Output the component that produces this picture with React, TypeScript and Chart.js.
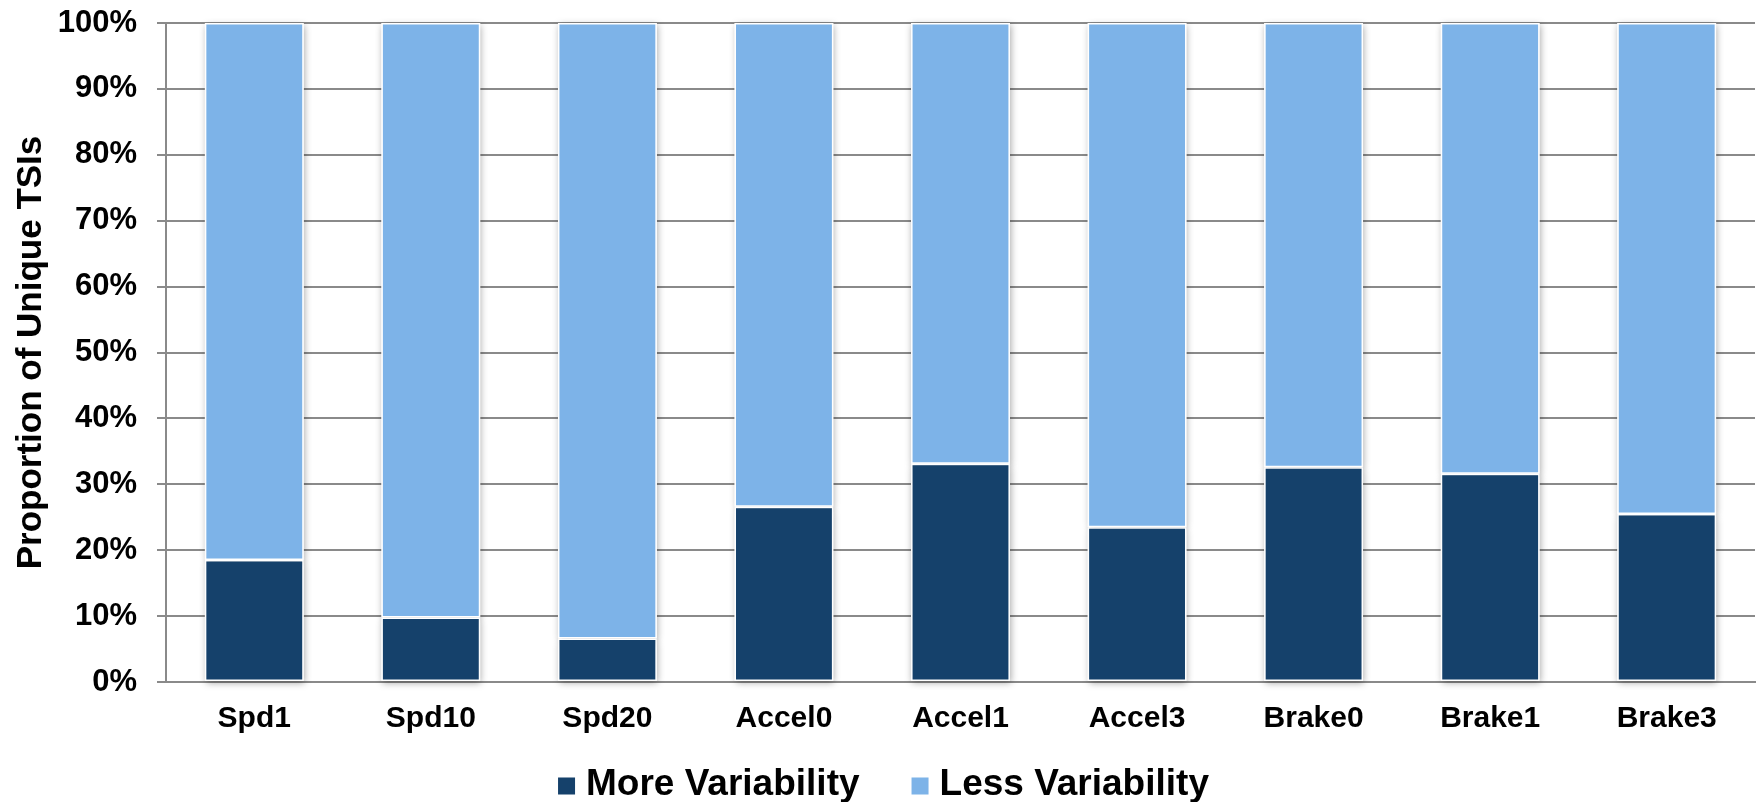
import React, { useEffect, useRef } from "react";
import { Chart, registerables } from "chart.js";

Chart.register(...registerables);

// Categories and stacked proportions (percent of unique TSIs)
const categories = ["Spd1", "Spd10", "Spd20", "Accel0", "Accel1", "Accel3", "Brake0", "Brake1", "Brake3"];
const moreVariability = [18.5, 9.8, 6.6, 26.6, 33.1, 23.5, 32.6, 31.6, 25.5];
const lessVariability = [81.5, 90.2, 93.4, 73.4, 66.9, 76.5, 67.4, 68.4, 74.5];
const yTicks = [0, 10, 20, 30, 40, 50, 60, 70, 80, 90, 100];

const FONT = "'Liberation Sans', Arial, Helvetica, sans-serif";
const DARK = "#15416B";
const LIGHT = "#7DB3E8";
const GRID = "#8A8A8A";

// Soft drop shadow behind every bar segment
const barShadow = {
  id: "barShadow",
  beforeDatasetsDraw(chart: any) {
    const ctx = chart.ctx;
    ctx.save();
    ctx.shadowColor = "rgba(0,0,0,0.35)";
    ctx.shadowBlur = 7;
    ctx.shadowOffsetX = 1;
    ctx.shadowOffsetY = 2;
    ctx.fillStyle = "#ffffff";
    chart.data.datasets.forEach((_: any, i: number) => {
      const meta = chart.getDatasetMeta(i);
      meta.data.forEach((el: any) => {
        const { x, y, base, width } = el.getProps(["x", "y", "base", "width"], true);
        const top = Math.min(y, base);
        const h = Math.abs(base - y);
        ctx.fillRect(x - width / 2, top, width, h);
      });
    });
    ctx.restore();
  },
};

// Bottom legend: square swatch, small gap, bold label; items spaced wider apart
const LEGEND_BOX = 17;
const LEGEND_GAP = 11;
const LEGEND_ITEM_GAP = 52;
const LEGEND_FONT_SIZE = 37;
const bottomLegend = {
  id: "bottomLegend",
  afterDraw(chart: any) {
    const ctx = chart.ctx;
    ctx.save();
    ctx.font = `bold ${LEGEND_FONT_SIZE}px ${FONT}`;
    const items = chart.data.datasets.map((ds: any) => ({
      text: ds.label as string,
      color: ds.backgroundColor as string,
      w: ctx.measureText(ds.label).width,
    }));
    const total =
      items.reduce((s: number, it: any) => s + LEGEND_BOX + LEGEND_GAP + it.w, 0) +
      LEGEND_ITEM_GAP * (items.length - 1);
    let x = chart.width / 2 - total / 2 + 4;
    const cy = chart.height - 17;
    ctx.textBaseline = "middle";
    ctx.textAlign = "left";
    items.forEach((it: any) => {
      ctx.fillStyle = it.color;
      ctx.fillRect(x, cy - LEGEND_BOX / 2 + 1, LEGEND_BOX, LEGEND_BOX);
      x += LEGEND_BOX + LEGEND_GAP;
      ctx.fillStyle = "#000";
      ctx.fillText(it.text, x, cy);
      x += it.w + LEGEND_ITEM_GAP;
    });
    ctx.restore();
  },
};

export default function App() {
  const canvasRef = useRef<HTMLCanvasElement | null>(null);

  useEffect(() => {
    if (!canvasRef.current) return;
    const chart = new Chart(canvasRef.current, {
      type: "bar",
      data: {
        labels: categories,
        datasets: [
          {
            label: "More Variability",
            data: moreVariability,
            backgroundColor: DARK,
            borderColor: "#ffffff",
            borderWidth: 1.5,
            borderSkipped: false,
            barPercentage: 0.56,
            categoryPercentage: 1,
          },
          {
            label: "Less Variability",
            data: lessVariability,
            backgroundColor: LIGHT,
            borderColor: "#ffffff",
            borderWidth: 1.5,
            borderSkipped: false,
            barPercentage: 0.56,
            categoryPercentage: 1,
          },
        ],
      },
      options: {
        animation: false,
        responsive: true,
        maintainAspectRatio: false,
        layout: { padding: { top: 23, right: 4, bottom: 60, left: 0 } },
        plugins: {
          tooltip: { enabled: false },
          legend: { display: false },
        },
        scales: {
          x: {
            stacked: true,
            grid: { display: false, drawTicks: false },
            border: { display: true, color: GRID, width: 2 },
            ticks: {
              color: "#000",
              padding: 19,
              font: { family: FONT, size: 30, weight: "bold" },
              maxRotation: 0,
            },
            afterFit(scale: any) {
              scale.height = 60;
            },
          },
          y: {
            stacked: true,
            min: 0,
            max: 100,
            afterBuildTicks(scale: any) {
              scale.ticks = yTicks.map((v) => ({ value: v }));
            },
            grid: { color: GRID, lineWidth: 2, tickLength: 9, drawTicks: true },
            border: { display: true, color: GRID, width: 2 },
            ticks: {
              color: "#000",
              padding: 20,
              font: { family: FONT, size: 31, weight: "bold" },
              callback: (v: any) => v + "%",
            },
            title: {
              display: true,
              text: "Proportion of Unique TSIs",
              color: "#000",
              font: { family: FONT, size: 35, weight: "bold" },
              padding: { top: 10, bottom: 0 },
            },
            afterFit(scale: any) {
              scale.width = 166;
              // the outer layout padding already leaves room for the end labels
              scale.paddingTop = 0;
              scale.paddingBottom = 0;
            },
          },
        },
      },
      plugins: [barShadow, bottomLegend],
    });
    return () => chart.destroy();
  }, []);

  return (
    <div style={{ position: "fixed", left: 0, top: 0, width: 1759, height: 802, background: "#fff" }}>
      <canvas ref={canvasRef} />
    </div>
  );
}
